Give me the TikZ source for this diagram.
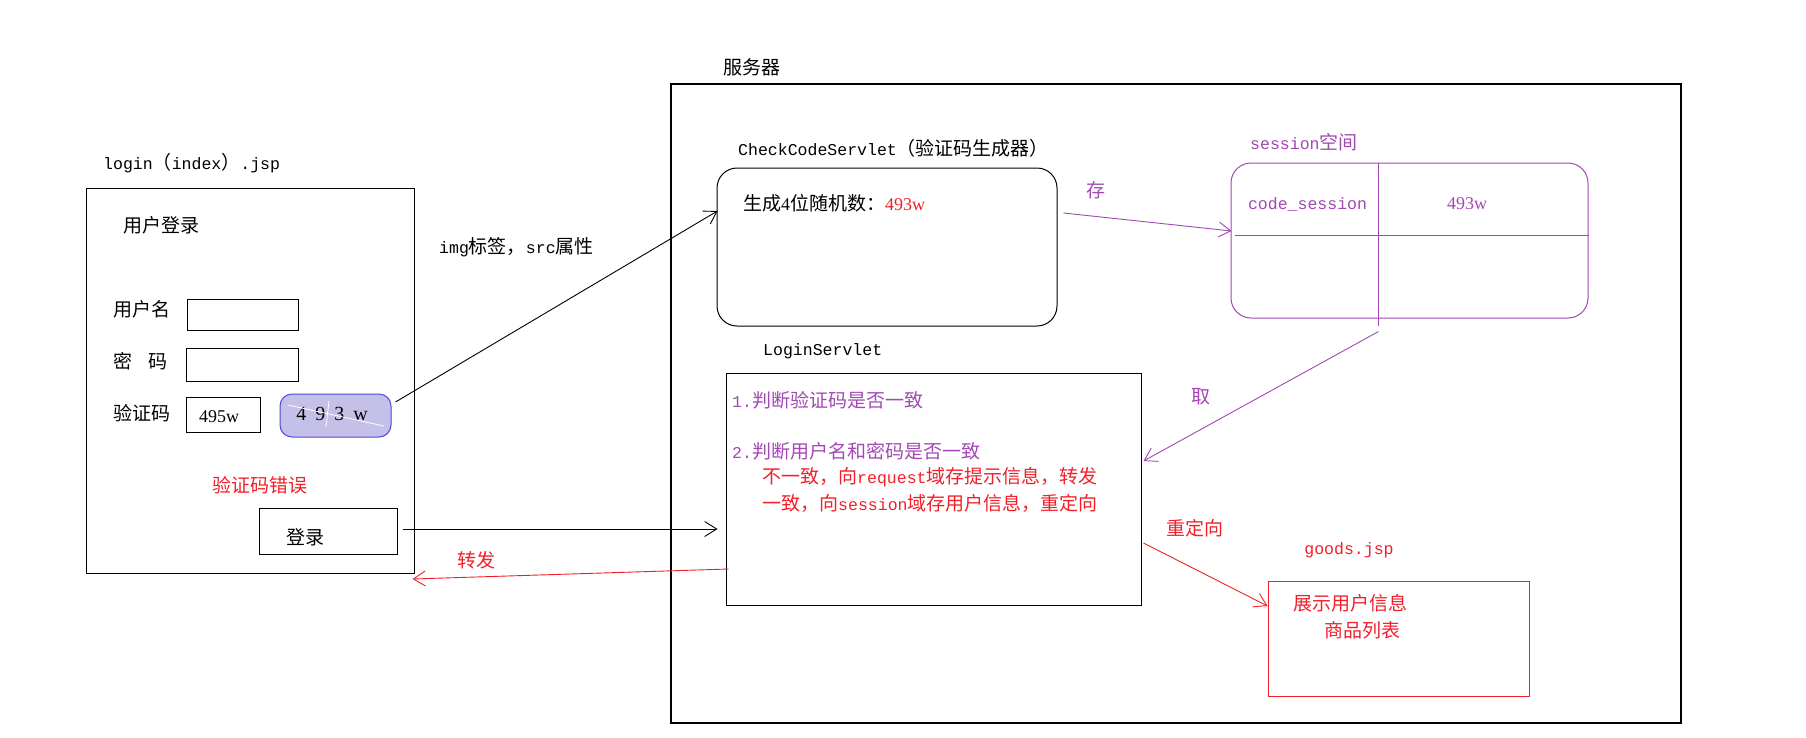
\documentclass[tikz,border=0pt]{standalone}
\usepackage{fontspec}
\setmainfont{Noto Sans CJK SC}
\newfontfamily\monof{Liberation Mono}[Scale=0.87]
\newfontfamily\serf{Liberation Serif}
\usetikzlibrary{arrows.meta,calc}
\definecolor{pur}{HTML}{A347B5}
\definecolor{redc}{HTML}{F0202A}
\definecolor{capfill}{HTML}{C5C0E8}
\definecolor{capdraw}{HTML}{4B4BD6}
\newcommand\lt[1]{{\monof #1}}
\newcommand\nm[1]{{\serf\fontsize{18}{22}\selectfont #1}}
\begin{document}
\begin{tikzpicture}[x=1pt,y=-1pt,
  txt/.style={inner sep=0pt, font=\fontsize{19}{23}\selectfont, anchor=west},
  ctxt/.style={txt, anchor=center},
  box/.style={draw, line width=1pt, inner sep=0pt},
  rbox/.style={box, rounded corners=20pt},
  arr/.style={line width=0.9pt, -{Straight Barb[length=12pt,width=15pt]}},
]
\useasboundingbox (0,0) rectangle (1806,737);
\fill[white] (0,0) rectangle (1806,737);

% ---------- login page ----------
\node[txt] (loginlbl) at (103,163) {\lt{login}（\lt{index}）\lt{.jsp}};
\node[box, minimum width=328pt, minimum height=385pt] (loginbox) at (250,380.5) {};
\node[txt] (title) at (123,225) {用户登录};
\node[txt] (unlbl) at (113,309) {用户名};
\node[txt] (pwlbl) at (113,361) {密\hspace{16pt}码};
\node[txt] (cdlbl) at (113,413) {验证码};
\node[box, minimum width=111pt, minimum height=31pt] (userbox) at (242.5,314.5) {};
\node[box, minimum width=112pt, minimum height=33pt] (pwdbox) at (242,364.5) {};
\node[box, minimum width=74pt, minimum height=35pt] (codebox) at (223,414.5) {};
\node[ctxt] (codeval) at (219,417) {\nm{495w}};
\node[draw=capdraw, fill=capfill, line width=1pt, rounded corners=12pt, inner sep=0pt,
      minimum width=111pt, minimum height=43pt] (captcha) at (335.5,415.5) {};
\node[ctxt] (captxt) at (332,414) {{\serf\fontsize{20}{24}\selectfont 4\hspace{9pt}9\hspace{9pt}3\hspace{9pt}w}};
\draw[white, line width=0.8pt] ($(captcha.center)+(-47.5,-10.5)$) -- ($(captcha.center)+(48.5,10.5)$);
\draw[white, line width=0.8pt] ($(captcha.center)+(-6.5,-14.5)$) -- ($(captcha.center)+(-9.5,11.5)$);
\node[ctxt, text=redc] (err) at (260,485) {验证码错误};
\node[box, minimum width=138pt, minimum height=46pt] (btn) at (328,531) {};
\node[txt] (btntxt) at (286,537) {登录};

% ---------- server ----------
\node[box, line width=1.6pt, minimum width=1010pt, minimum height=639pt] (server) at (1176,403.5) {};
\node[ctxt] (srvlbl) at (752,67) {服务器};

\node[txt] (cclbl) at (738,148) {\lt{CheckCodeServlet}（验证码生成器）};
\node[rbox, minimum width=340pt, minimum height=158pt] (cc) at (887,247) {};
\node[txt] (gen) at (743,203) {生成\nm{4}位随机数：\textcolor{redc}{\nm{493w}}};

\node[txt, text=pur] (sesslbl) at (1250,142) {\lt{session}空间};
\node[rbox, draw=pur, minimum width=357pt, minimum height=155pt] (sess) at (1409.5,240.5) {};
\draw[pur, line width=1pt] ($(sess.north west)+(148,0)$) -- ($(sess.south west)+(148,7)$);
\draw[pur, line width=1pt] ($(sess.north west)+(4,73)$) -- ($(sess.north east)+(0,73)$);
\node[ctxt, text=pur] (ckey) at (1307.5,204) {\lt{code\_session}};
\node[ctxt, text=pur] (cval) at (1467,204) {\nm{493w}};

\node[txt] (lslbl) at (763,351) {\lt{LoginServlet}};
\node[box, minimum width=415pt, minimum height=232pt] (ls) at (933.5,489) {};
\node[txt, text=pur] (l1) at (732,400) {\lt{1.}判断验证码是否一致};
\node[txt, text=pur] (l2) at (732,451) {\lt{2.}判断用户名和密码是否一致};
\node[txt, text=redc] (l3) at (762,477) {不一致，向\lt{request}域存提示信息，转发};
\node[txt, text=redc] (l4) at (762,503) {一致，向\lt{session}域存用户信息，重定向};

\node[ctxt, text=redc] (goodslbl) at (1349,550) {\lt{goods.jsp}};
\node[box, draw=redc, minimum width=261pt, minimum height=115pt] (goods) at (1398.5,638.5) {};
\node[txt, text=redc] (g1) at (1293,603) {展示用户信息};
\node[txt, text=redc] (g2) at (1324,630) {商品列表};

% ---------- connectors ----------
\draw[arr] ([xshift=4pt,yshift=13.5pt]captcha.east) -- ([xshift=1pt,yshift=36pt]cc.west);
\node[txt] (imglbl) at (439,247) {\lt{img}标签，\lt{src}属性};

\draw[arr, pur] ([xshift=6pt,yshift=34pt]cc.east) -- ([xshift=1pt,yshift=9.5pt]sess.west);
\node[ctxt, text=pur] (cunlbl) at (1096,190) {存};

\draw[arr, pur] ([xshift=148pt,yshift=-13pt]sess.south west) -- ([xshift=2pt,yshift=28pt]ls.east);
\node[ctxt, text=pur] (qulbl) at (1201,397) {取};

\draw[arr] ([xshift=5pt,yshift=2pt]btn.east) -- ([xshift=-8pt,yshift=-40pt]ls.west);

\draw[arr, redc] ([xshift=3pt,yshift=-80pt]ls.west) -- ([xshift=-2pt,yshift=-198.5pt]loginbox.east);
\node[ctxt, text=redc] (zflbl) at (476,560) {转发};

\draw[arr, redc] ([xshift=2pt,yshift=-54pt]ls.east) -- ([yshift=32.5pt]goods.west);
\node[ctxt, text=redc] (cdxlbl) at (1195,528) {重定向};
\end{tikzpicture}
\end{document}
